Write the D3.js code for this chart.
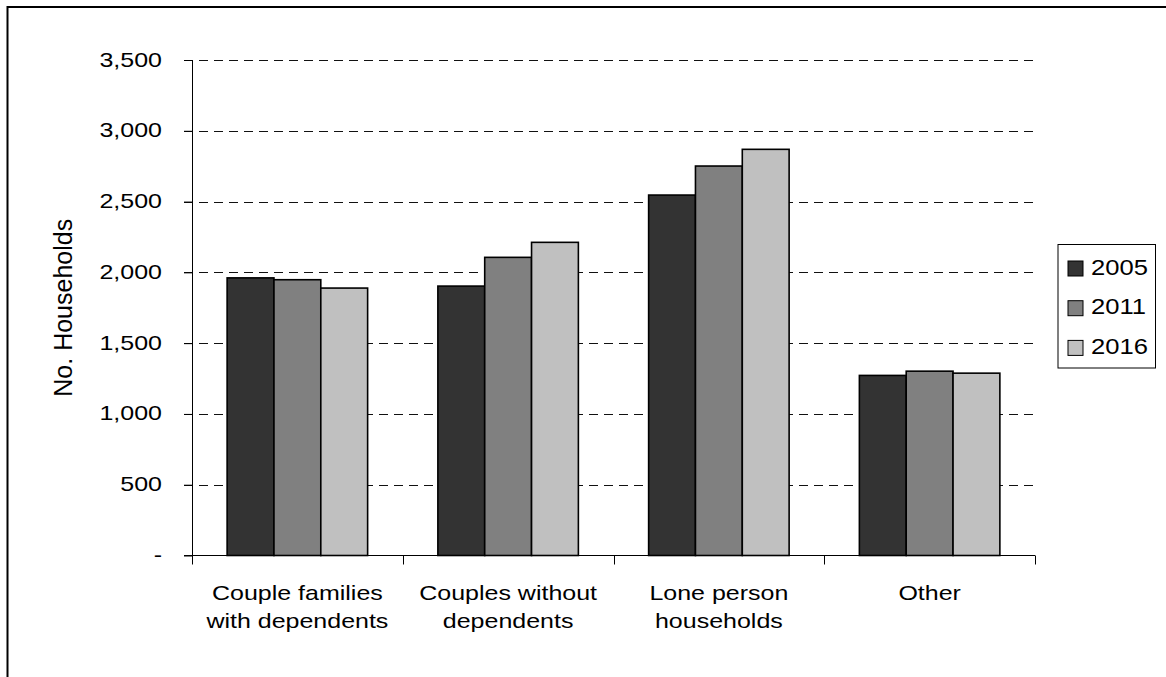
<!DOCTYPE html>
<html>
<head>
<meta charset="utf-8">
<script src="https://cdn.jsdelivr.net/npm/d3@7"></script>
<style>
  html, body { margin: 0; padding: 0; background: #fff; }
  svg { display: block; font-family: "Liberation Sans", Arial, sans-serif; }
</style>
</head>
<body>
<svg id="chart" width="1166" height="677"></svg>
<script>
// Household types and counts by census year
const categories = [
  ["Couple families", "with dependents"],
  ["Couples without", "dependents"],
  ["Lone person", "households"],
  ["Other"]
];
const years = ["2005", "2011", "2016"];
const values2005 = [1961, 1903, 2546, 1272];
const values2011 = [1948, 2106, 2751, 1302];
const values2016 = [1889, 2212, 2869, 1288];
const yTicks = [0, 500, 1000, 1500, 2000, 2500, 3000, 3500];
const yTitle = "No. Households";
const colors = ["#333333", "#808080", "#c0c0c0"];

const series = [values2005, values2011, values2016];
const catKeys = categories.map(c => c.join(" "));

// labels are set in a slightly wide face
const fontSize = 21;
const wide = 1.19;

const svg = d3.select("#chart");

// outer frame
svg.append("rect")
  .attr("x", 7.5).attr("y", 7).attr("width", 1200).attr("height", 700)
  .attr("fill", "none").attr("stroke", "#000").attr("stroke-width", 2);

const plotLeft = 192, plotRight = 1035, plotTop = 60, plotBottom = 555.5;

const x = d3.scaleBand().domain(catKeys).range([plotLeft, plotRight]).padding(0);
const xi = d3.scaleBand().domain(years).range([0, x.bandwidth()])
  .paddingInner(0).paddingOuter(0.75);
const y = d3.scaleLinear().domain([0, 3500]).range([plotBottom, plotTop]);

// dashed gridlines
svg.append("g")
  .selectAll("line")
  .data(yTicks.filter(d => d > 0))
  .join("line")
  .attr("x1", plotLeft - 8).attr("x2", plotRight)
  .attr("y1", d => Math.round(y(d)) + 0.5)
  .attr("y2", d => Math.round(y(d)) + 0.5)
  .attr("stroke", "#111")
  .attr("stroke-width", 1)
  .attr("stroke-dasharray", "9,6");

// bars
const groups = svg.append("g")
  .selectAll("g")
  .data(catKeys)
  .join("g")
  .attr("transform", d => `translate(${x(d)},0)`);

groups.selectAll("rect")
  .data((d, i) => years.map((yr, j) => ({ yr, j, v: series[j][i] })))
  .join("rect")
  .attr("x", d => xi(d.yr))
  .attr("width", xi.bandwidth())
  .attr("y", d => y(d.v))
  .attr("height", d => y(0) - y(d.v))
  .attr("fill", d => colors[d.j])
  .attr("stroke", "#000")
  .attr("stroke-width", 1.6);

// y axis
const yAxis = d3.axisLeft(y)
  .tickValues(yTicks)
  .tickSize(8)
  .tickFormat(d => d === 0 ? "-" : d3.format(",")(d));

const gy = svg.append("g")
  .attr("transform", `translate(${plotLeft},0)`)
  .call(yAxis);
gy.select(".domain").remove();
gy.selectAll(".tick line").attr("stroke", "#000");
gy.selectAll(".tick text")
  .attr("x", 0).attr("y", 0).attr("dy", null)
  .attr("transform", `translate(-30,6) scale(${wide},1)`)
  .attr("text-anchor", "end")
  .attr("font-size", fontSize)
  .attr("fill", "#000")
  .attr("font-family", "Liberation Sans, Arial, sans-serif");
gy.append("line")
  .attr("x1", 0.5).attr("x2", 0.5)
  .attr("y1", plotTop).attr("y2", plotBottom + 9)
  .attr("stroke", "#000");

// x axis baseline and category ticks
svg.append("line")
  .attr("x1", plotLeft - 8).attr("x2", plotRight)
  .attr("y1", plotBottom).attr("y2", plotBottom)
  .attr("stroke", "#000").attr("stroke-width", 1);

svg.append("g")
  .selectAll("line")
  .data(catKeys)
  .join("line")
  .attr("x1", d => Math.round(x(d) + x.bandwidth()) + 0.5)
  .attr("x2", d => Math.round(x(d) + x.bandwidth()) + 0.5)
  .attr("y1", plotBottom).attr("y2", plotBottom + 9)
  .attr("stroke", "#000");

// category labels
const labels = svg.append("g")
  .selectAll("text")
  .data(categories)
  .join("text")
  .attr("text-anchor", "middle")
  .attr("font-size", fontSize)
  .attr("fill", "#000")
  .attr("transform", (d, i) =>
    `translate(${x(catKeys[i]) + x.bandwidth() / 2},599.5) scale(${wide},1)`);
labels.selectAll("tspan")
  .data(d => d)
  .join("tspan")
  .attr("x", 0)
  .attr("dy", (d, i) => i === 0 ? 0 : 29)
  .text(d => d);

// y-axis title
svg.append("text")
  .attr("transform", `translate(71.5,${(plotTop + plotBottom) / 2}) rotate(-90)`)
  .attr("text-anchor", "middle")
  .attr("font-size", 25)
  .attr("fill", "#000")
  .text(yTitle);

// legend
const lg = svg.append("g").attr("transform", "translate(1058,244.5)");
lg.append("rect")
  .attr("x", 0).attr("y", 0)
  .attr("width", 97.5).attr("height", 123.5)
  .attr("fill", "#fff").attr("stroke", "#000");
const items = lg.selectAll("g.item")
  .data(years)
  .join("g")
  .attr("class", "item")
  .attr("transform", (d, i) => `translate(10,${16.5 + i * 39.7})`);
items.append("rect")
  .attr("width", 15).attr("height", 15)
  .attr("fill", (d, i) => colors[i])
  .attr("stroke", "#000");
items.append("text")
  .attr("transform", `translate(23,13.5) scale(${wide},1)`)
  .attr("font-size", fontSize + 0.5)
  .attr("fill", "#000")
  .text(d => d);
</script>
</body>
</html>
